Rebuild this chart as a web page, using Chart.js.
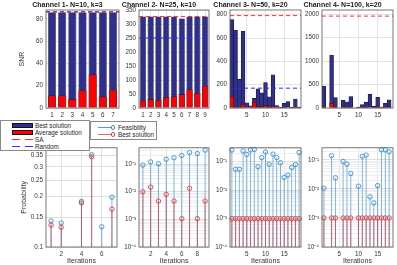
<!DOCTYPE html>
<html>
<head>
<meta charset="utf-8">
<title>SNR y probabilidad por canal</title>
<script src="https://cdn.jsdelivr.net/npm/chart.js@4.4.1/dist/chart.umd.min.js"></script>
<style>
  body { margin: 0; background: #fff; }
  #lienzo { position: relative; width: 397px; height: 265px; overflow: hidden; font-family: "Liberation Sans", Arial, Helvetica, sans-serif; }
  #lienzo canvas { position: absolute; }
  .leyenda { position: absolute; background: #fff; border: 1px solid #8a8a8a; box-sizing: border-box; z-index: 10; font-size: 6.3px; color: #1e1e1e; }
  .leyenda .txt { position: absolute; line-height: 7px; white-space: nowrap; }
  .leyenda .m { position: absolute; }
</style>
</head>
<body>
<div id="lienzo">
  <div class="leyenda" style="left:0px;top:120px;width:90px;height:31px">
    <div class="m" style="left:11px;top:1.5px;width:21px;height:5px;background:#30308a;border:0.5px solid #111;box-sizing:border-box"></div>
    <div class="txt" style="left:34px;top:0.5px">Best solution</div>
    <div class="m" style="left:11px;top:8.5px;width:21px;height:5px;background:#ff0000;border:0.5px solid #111;box-sizing:border-box"></div>
    <div class="txt" style="left:34px;top:7.5px">Average solution</div>
    <div class="m" style="left:11px;top:18px;width:21px;height:1px;background:linear-gradient(90deg,#ff3030 0 8px,transparent 8px 13px,#ff3030 13px 21px)"></div>
    <div class="txt" style="left:34px;top:14.5px">SA</div>
    <div class="m" style="left:11px;top:25px;width:21px;height:1px;background:linear-gradient(90deg,#3030ff 0 8px,transparent 8px 13px,#3030ff 13px 21px)"></div>
    <div class="txt" style="left:34px;top:21.5px">Random</div>
  </div>
  <div class="leyenda" style="left:90px;top:121px;width:67px;height:19px">
    <div class="m" style="left:7px;top:5px;width:15px;height:1px;background:#4d9ad6"></div>
    <div class="m" style="left:19.5px;top:3px;width:4.6px;height:4.6px;border:0.9px solid #3a8fd0;border-radius:50%;box-sizing:border-box;background:#fff"></div>
    <div class="txt" style="left:27px;top:1.5px">Feasibility</div>
    <div class="m" style="left:7px;top:12px;width:15px;height:1px;background:#e86a6a"></div>
    <div class="m" style="left:19.5px;top:10px;width:4.6px;height:4.6px;border:0.9px solid #e23c3c;border-radius:50%;box-sizing:border-box;background:#fff"></div>
    <div class="txt" style="left:27px;top:8.5px">Best solution</div>
  </div>
</div>
<script>
// ---- datos fila superior (SNR) ----
const titulos = ["Channel 1- N=10, k=3", "Channel 2- N=25, k=10", "Channel 3- N=50, k=20", "Channel 4- N=100, k=20"];
const best1 = [86, 86, 86, 86, 86, 86, 86];
const avg1 = [11.3, 11.3, 8, 16, 30, 10.4, 16.4];
const best2 = [327, 327, 327, 327, 327, 320, 327, 327, 327];
const avg2 = [26, 32, 27, 39, 42, 49, 67, 53, 79];
const best3 = [757, 667, 247, 658, 45, 18, 82, 165, 130, 218, 95, 285, 20, 7, 40, 55, 7, 77, 7];
const avg3 = [100, 6, 5, 33, 4, 4, 49, 6, 14, 20, 6, 18, 4, 2, 3, 4, 2, 6, 2];
const best4 = [462, null, 1130, 220, null, 165, 130, 246, null, 18, 72, 125, 295, 36, 225, 17, 102, 172];
const avg4 = [4, null, 100, 6, null, 5, 5, 6, null, 2, 8, 6, 10, 3, 6, 2, 8, 32];
const saSNR = [86, 327, 792, 1960];
const randomSNR = [86.5, 250, 170, null];
const snrTicks = [[0, 20, 40, 60, 80], [0, 50, 100, 150, 200, 250, 300, 350], [0, 200, 400, 600, 800], [0, 500, 1000, 1500, 2000]];
const snrMax = [88, 350, 840, 2090];

// ---- datos fila inferior (probabilidad) ----
const feas1 = [0.143, 0.139, null, 0.187, 0.355, 0.132, 0.198];
const bestP1 = [0.135, 0.131, null, 0.183, 0.345, null, 0.168];
const feas2 = [0.092, 0.12, 0.103, 0.15, 0.17, 0.205, 0.26, 0.24, 0.32];
const bestP2 = [0.01, 0.0147, 0.0046, 0.008, 0.0046, 0.00106, 0.0133, 0.00106, 0.0046];
const feas3 = [0.258, 0.054, 0.054, 0.24, 0.18, 0.26, 0.27, 0.067, 0.14, 0.22, 0.081, 0.186, 0.14, 0.092, 0.028, 0.034, 0.063, 0.08, 0.21];
const bestP3 = [0.001, 0.001, 0.001, 0.001, 0.001, 0.001, 0.001, 0.001, 0.001, 0.001, 0.001, 0.001, 0.001, 0.001, 0.001, 0.001, 0.001, 0.001, 0.001];
const feas4 = [0.0105, null, 0.14, 0.024, null, 0.088, 0.071, 0.034, null, 0.0124, 0.133, 0.146, 0.0053, 0.0033, 0.013, 0.22, 0.22, 0.19];
const bestP4 = [0.001, null, 0.001, 0.001, null, 0.001, 0.001, 0.001, null, 0.001, 0.001, 0.001, 0.001, 0.001, 0.001, 0.001, 0.001, 0.001];
const probTicks1 = [0.1, 0.15, 0.2, 0.25, 0.3, 0.35];
const probLabels1 = ["0.1", "0.15", "0.2", "0.25", "0.3", "0.35"];
const probTicksLog = [1e-4, 1e-3, 1e-2, 1e-1];
const probLabelsLog = ["10\u207B\u2074", "10\u207B\u00B3", "10\u207B\u00B2", "10\u207B\u00B9"];
const probMax = [0.39, 0.39, 0.31, 0.26];

// ---- ejes x ----
const xTicks = [[1, 2, 3, 4, 5, 6, 7], [1, 2, 3, 4, 5, 6, 7, 8, 9], [5, 10, 15], [5, 10, 15]];
const xTicksAbajo = [[2, 4, 6], [2, 4, 6, 8], [5, 10, 15], [5, 10, 15]];
const xRangos = [[0.4, 7.6], [0.5, 9.5], [0.5, 19.5], [0.5, 19]];
const xRangosAbajo = [[0.5, 7.5], [0.5, 9.5], [0.5, 19.5], [0.5, 19]];
const anchoBarra = [0.8, 0.8, 1, 1];

Chart.defaults.font.family = '"Liberation Sans", Arial, Helvetica, sans-serif';
Chart.defaults.font.size = 6.3;
Chart.defaults.color = '#333';
Chart.defaults.animation = false;
Chart.defaults.responsive = false;
Chart.defaults.plugins.legend.display = false;
Chart.defaults.plugins.tooltip.enabled = false;

const lienzo = document.getElementById('lienzo');
function nuevoCanvas(left, top, w, h) {
  const c = document.createElement('canvas');
  c.width = w; c.height = h;
  c.style.left = left + 'px'; c.style.top = top + 'px';
  c.style.width = w + 'px'; c.style.height = h + 'px';
  lienzo.appendChild(c);
  return c;
}

// caja alrededor del area (box on)
const marco = {
  id: 'marco',
  afterDatasetsDraw(chart) {
    const { ctx, chartArea: a } = chart;
    ctx.save();
    ctx.strokeStyle = '#555';
    ctx.lineWidth = 0.8;
    ctx.strokeRect(a.left, a.top, a.right - a.left, a.bottom - a.top);
    ctx.restore();
  }
};

const aPuntos = (vals) => vals.map((y, i) => ({ x: i + 1, y }));
const linea = (x0, x1, y) => [{ x: x0, y }, { x: x1, y }];

function ejeX(rango, ticks, alto, titulo) {
  return {
    type: 'linear', min: rango[0], max: rango[1], offset: false,
    grid: { color: '#e2e2e2', drawTicks: false, offset: false },
    border: { display: false },
    ticks: { padding: 3, maxRotation: 0, autoSkip: false, callback: v => String(v) },
    afterBuildTicks: s => { s.ticks = ticks.map(v => ({ value: v })); },
    afterFit: s => { s.height = alto; },
    title: titulo ? { display: true, text: titulo, font: { size: 7 }, padding: 0 } : { display: false }
  };
}

const cajasArriba = [[46, 119], [139, 209], [230, 301], [322, 393]];
const cajasAbajo = [[46, 117], [139, 209], [230, 301], [322, 393]];

function panelSNR(i, best, avg) {
  const [l, r] = cajasArriba[i];
  const canvas = nuevoCanvas(l - 30, 0, (r - l) + 60, 120);
  const rango = xRangos[i];
  const datasets = [
    { type: 'line', data: linea(rango[0], rango[1], saSNR[i]), borderColor: '#ff3030', borderWidth: 1, borderDash: [4, 3], pointRadius: 0, order: 0 }
  ];
  if (randomSNR[i] !== null) {
    datasets.push({ type: 'line', data: linea(rango[0], rango[1], randomSNR[i]), borderColor: '#2a2aff', borderWidth: 1, borderDash: [4, 3], pointRadius: 0, order: 0 });
  }
  datasets.push({ data: aPuntos(avg), backgroundColor: '#ff0000', borderColor: '#3a0a0a', borderWidth: 0.6, grouped: false, barPercentage: anchoBarra[i], categoryPercentage: 1, order: 1 });
  datasets.push({ data: aPuntos(best), backgroundColor: '#30308a', borderColor: '#14143a', borderWidth: 0.6, grouped: false, barPercentage: anchoBarra[i], categoryPercentage: 1, order: 2 });

  new Chart(canvas, {
    type: 'bar',
    data: { datasets },
    options: {
      layout: { padding: { left: 0, right: 30, top: 0, bottom: 0 } },
      plugins: {
        title: { display: true, text: titulos[i], font: { size: 7, weight: 'bold' }, color: '#1a1a1a', padding: { top: 0.6, bottom: 1 } }
      },
      scales: {
        x: ejeX(rango, xTicks[i], 12, null),
        y: {
          type: 'linear', min: 0, max: snrMax[i],
          grid: { color: '#e2e2e2', drawTicks: false },
          border: { display: false },
          ticks: { padding: 3, callback: v => String(v) },
          afterBuildTicks: s => { s.ticks = snrTicks[i].map(v => ({ value: v })); },
          afterFit: s => { s.width = 30; },
          title: i === 0 ? { display: true, text: 'SNR', font: { size: 7 }, padding: { top: 1.5, bottom: 0 } } : { display: false }
        }
      }
    },
    plugins: [marco]
  });
}

function panelProb(i, feas, best) {
  const [l, r] = cajasAbajo[i];
  const canvas = nuevoCanvas(l - 30, 141, (r - l) + 60, 124);
  const esLineal = i === 0;
  const mayores = esLineal ? probTicks1 : probTicksLog;
  const etiquetas = esLineal ? probLabels1 : probLabelsLog;
  const yMin = mayores[0];
  let menores = [];
  if (!esLineal) {
    // rejilla menor del eje log (2..9 por decada)
    for (const d of [1e-4, 1e-3, 1e-2, 1e-1]) {
      for (let m = 2; m <= 9; m++) if (m * d < probMax[i]) menores.push(m * d);
    }
  }
  const circulo = (col) => ({ type: 'line', showLine: false, pointRadius: 2.2, pointBorderWidth: 0.9, pointBorderColor: col, pointBackgroundColor: 'rgba(0,0,0,0)', clip: 4 });
  const datasets = [
    Object.assign(circulo('#e23c3c'), { data: aPuntos(best), order: 0 }),
    Object.assign(circulo('#3a8fd0'), { data: aPuntos(feas), order: 1 }),
    { data: aPuntos(best), backgroundColor: 'rgba(222,40,48,0.6)', maxBarThickness: 1, grouped: false, order: 2 },
    { data: aPuntos(feas), backgroundColor: 'rgba(0,114,189,0.5)', maxBarThickness: 1, grouped: false, order: 3 }
  ];

  new Chart(canvas, {
    type: 'bar',
    data: { datasets },
    options: {
      layout: { padding: { left: 0, right: 30, top: 6, bottom: 0 } },
      scales: {
        x: ejeX(xRangosAbajo[i], xTicksAbajo[i], 18, 'Iterations'),
        y: {
          type: 'logarithmic', min: yMin, max: probMax[i],
          grid: { drawTicks: false, color: c => mayores.includes(c.tick.value) ? '#dedede' : '#efefef' },
          border: { display: false },
          ticks: { padding: 3, autoSkip: false, callback: v => { const k = mayores.indexOf(v); return k >= 0 ? etiquetas[k] : ''; } },
          afterBuildTicks: s => { s.ticks = mayores.concat(menores).map(v => ({ value: v })); },
          afterFit: s => { s.width = 30; },
          title: i === 0 ? { display: true, text: 'Probability', font: { size: 7 }, padding: { top: 4, bottom: 0 } } : { display: false }
        }
      }
    },
    plugins: [marco]
  });
}

panelSNR(0, best1, avg1);
panelSNR(1, best2, avg2);
panelSNR(2, best3, avg3);
panelSNR(3, best4, avg4);
panelProb(0, feas1, bestP1);
panelProb(1, feas2, bestP2);
panelProb(2, feas3, bestP3);
panelProb(3, feas4, bestP4);
</script>
</body>
</html>
